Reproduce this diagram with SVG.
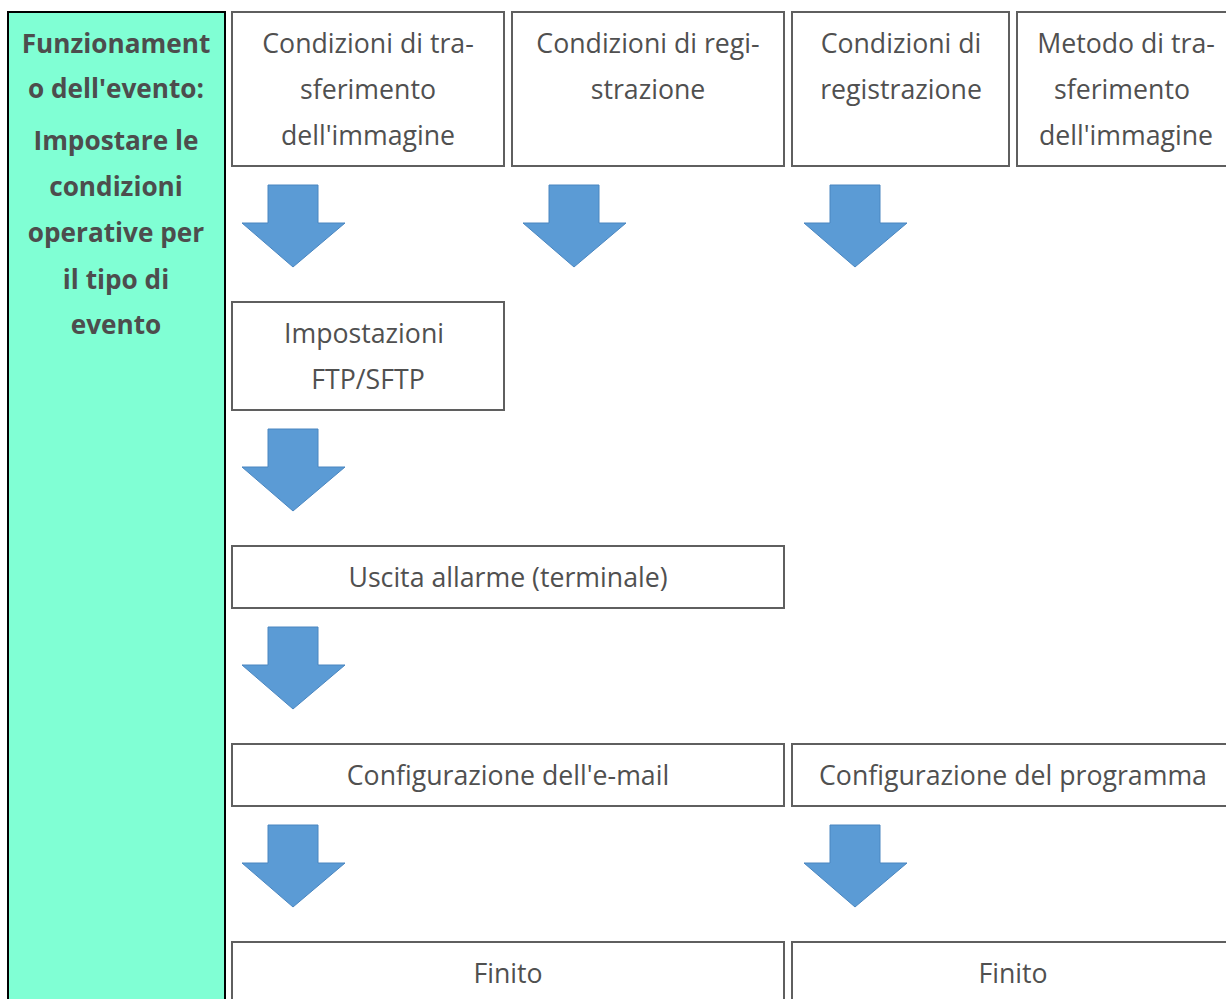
<svg xmlns="http://www.w3.org/2000/svg" width="1226" height="999" viewBox="0 0 1226 999">
<defs>
<style>
.box{fill:#fff;stroke:#5f5f5f;stroke-width:2}
.t{font-family:"Open Sans",Lato,sans-serif;font-size:26.7px;fill:#505050;text-anchor:middle}
.b{font-family:"Open Sans",Lato,sans-serif;font-size:26.2px;font-weight:bold;fill:#4d4d4d;text-anchor:middle}
.arr{fill:#5b9bd5;stroke:#4a86c0;stroke-width:1}
</style>
<path id="ar" d="M26,0 H76 V38 H103 L51,82 L0,38 H26 Z"/>
</defs>
<rect width="1226" height="999" fill="#fff"/>
<g id="panel">
<rect x="8" y="12" width="217" height="995" fill="#80ffd4" stroke="#000" stroke-width="2"/>
<text class="b" x="116" y="53">Funzionament</text>
<text class="b" x="116" y="98">o dell'evento:</text>
<text class="b" x="116" y="150">Impostare le</text>
<text class="b" x="116" y="196">condizioni</text>
<text class="b" x="116" y="242">operative per</text>
<text class="b" x="116" y="289">il tipo di</text>
<text class="b" x="116" y="334">evento</text>
</g>
<g id="n1"><rect class="box" x="232" y="12" width="272" height="154"/>
<text class="t" x="368" y="53">Condizioni di tra-</text><text class="t" x="368" y="99">sferimento</text><text class="t" x="368" y="145">dell'immagine</text></g>
<g id="n2"><rect class="box" x="512" y="12" width="272" height="154"/>
<text class="t" x="648" y="53">Condizioni di regi-</text><text class="t" x="648" y="99">strazione</text></g>
<g id="n3"><rect class="box" x="792" y="12" width="217" height="154"/>
<text class="t" x="901" y="53">Condizioni di</text><text class="t" x="901" y="99">registrazione</text></g>
<g id="n4"><rect class="box" x="1017" y="12" width="220" height="154"/>
<text class="t" x="1126" y="53">Metodo di tra-</text><text class="t" x="1122" y="99">sferimento</text><text class="t" x="1126" y="145">dell'immagine</text></g>
<g id="n5"><rect class="box" x="232" y="302" width="272" height="108"/>
<text class="t" x="364" y="343">Impostazioni</text><text class="t" x="368" y="389">FTP/SFTP</text></g>
<g id="n6"><rect class="box" x="232" y="546" width="552" height="62"/>
<text class="t" x="508" y="587">Uscita allarme (terminale)</text></g>
<g id="n7"><rect class="box" x="232" y="744" width="552" height="62"/>
<text class="t" x="508" y="785">Configurazione dell'e-mail</text></g>
<g id="n8"><rect class="box" x="792" y="744" width="445" height="62"/>
<text class="t" x="1013" y="785">Configurazione del programma</text></g>
<g id="n9"><rect class="box" x="232" y="942" width="552" height="70"/>
<text class="t" x="508" y="983">Finito</text></g>
<g id="n10"><rect class="box" x="792" y="942" width="445" height="70"/>
<text class="t" x="1013" y="983">Finito</text></g>
<g id="connectors">
<use href="#ar" class="arr" x="242" y="185"/>
<use href="#ar" class="arr" x="523" y="185"/>
<use href="#ar" class="arr" x="804" y="185"/>
<use href="#ar" class="arr" x="242" y="429"/>
<use href="#ar" class="arr" x="242" y="627"/>
<use href="#ar" class="arr" x="242" y="825"/>
<use href="#ar" class="arr" x="804" y="825"/>
</g>
</svg>
